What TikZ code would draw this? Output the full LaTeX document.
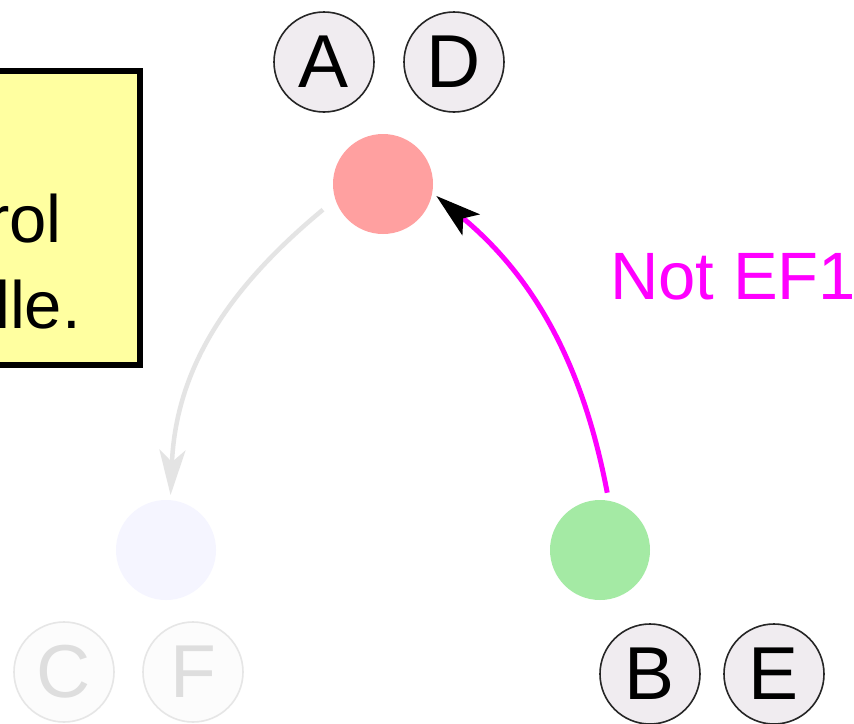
\documentclass[tikz,border=0pt]{standalone}
\usepackage{fontspec}
\setmainfont{Liberation Sans}
\usetikzlibrary{arrows.meta}
\definecolor{boxyellow}{RGB}{255,255,160}
\definecolor{nodered}{RGB}{255,160,160}
\definecolor{nodegreen}{RGB}{164,234,164}
\definecolor{nodelav}{RGB}{245,245,255}
\definecolor{agentfill}{RGB}{240,236,240}
\definecolor{fadefill}{RGB}{252,252,252}
\definecolor{fadeline}{RGB}{230,230,230}
\definecolor{fadetext}{RGB}{222,222,222}
\definecolor{arrowgray}{RGB}{228,228,228}
\definecolor{magentaline}{RGB}{255,0,255}
\tikzset{
  vertex/.style={circle, minimum size=100pt, inner sep=0pt, draw=none},
  agent/.style={circle, minimum size=100pt, inner sep=0pt, draw=black!85, line width=1.6pt, fill=agentfill, font=\fontsize{75}{75}\selectfont},
  fadeagent/.style={circle, minimum size=100pt, inner sep=0pt, draw=fadeline, line width=1.6pt, fill=fadefill, text=fadetext, font=\fontsize{75}{75}\selectfont},
  boxtext/.style={inner sep=0pt, font=\fontsize{67}{67}\selectfont, anchor=base east},
}
\begin{document}
\begin{tikzpicture}[x=1pt,y=-1pt]
\clip (0,0) rectangle (854,723);
\fill[white] (0,0) rectangle (854,723);
% note box
\draw[line width=6pt, fill=boxyellow] (-30,71) rectangle (140,365);
\node[boxtext] (t1) at (62,242) {rol};
\node[boxtext] (t2) at (81,328) {lle.};
% vertices
\node[vertex, fill=nodered] (red) at (383,184) {};
\node[vertex, fill=nodelav] (lav) at (166,550) {};
\node[vertex, fill=nodegreen] (green) at (600,550) {};
% agents
\node[agent] (A) at (324,62) {A};
\node[agent] (D) at (454,62) {D};
\node[fadeagent] (C) at (64,672) {C};
\node[fadeagent] (F) at (193,672) {F};
\node[agent] (B) at (650,674) {B};
\node[agent] (E) at (774,674) {E};
% arrows
\draw[arrowgray, line width=4.5pt, shorten <=16pt, shorten >=5pt,
      -{Stealth[length=45pt,width=26pt,inset=12pt,fill=arrowgray]}]
  (red.198) .. controls (232,285) and (176,365) .. (lav.85);
\draw[magentaline, line width=5pt, shorten <=8pt, shorten >=5pt,
      -{Stealth[length=45pt,width=27pt,inset=10pt,black,fill=black]}]
  (green.80) .. controls (583,365) and (535,278) .. (red.-10);
\node[text=magentaline, inner sep=0pt, anchor=base west, font=\fontsize{67}{67}\selectfont] (lbl) at (610,299) {Not EF1};
\end{tikzpicture}
\end{document}
